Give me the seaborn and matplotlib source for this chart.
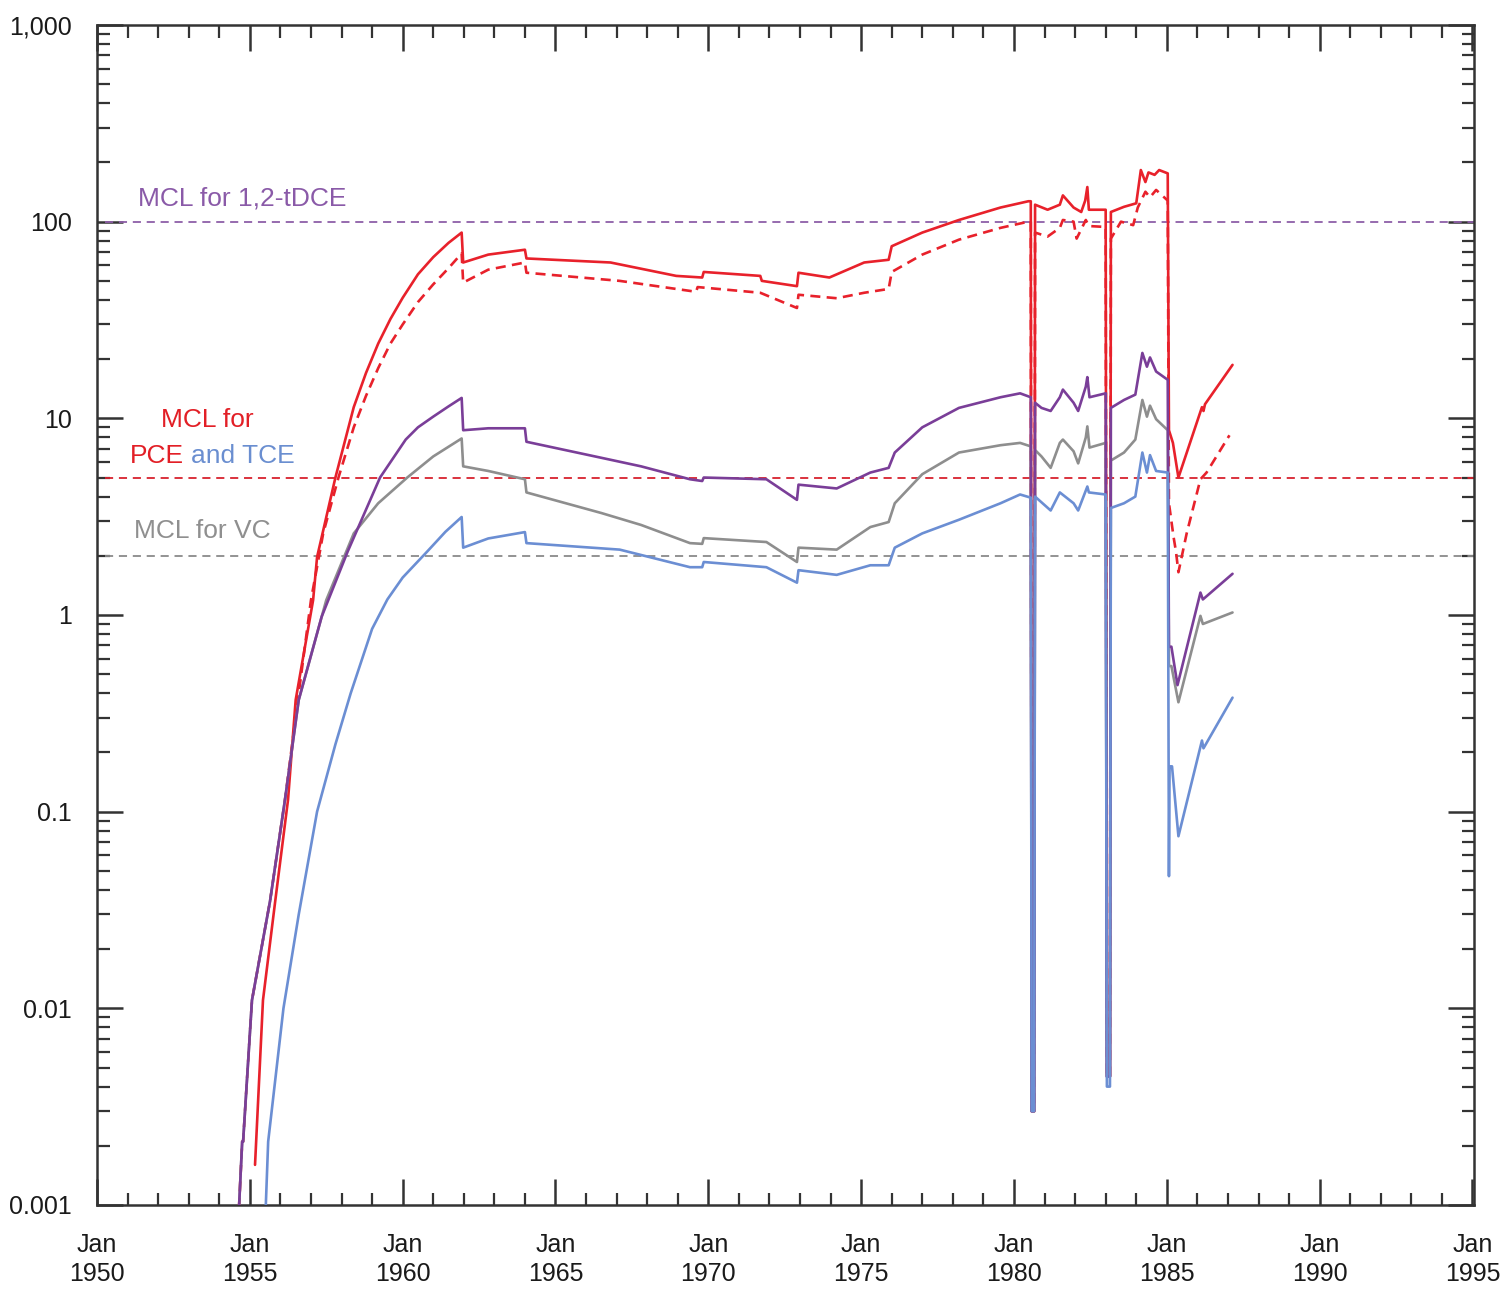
import numpy as np
import pandas as pd
import matplotlib
matplotlib.use("Agg")
import matplotlib.pyplot as plt
import seaborn as sns
from matplotlib.ticker import FixedLocator, LogLocator, NullFormatter

# ---------------- data ----------------
pce_years = [1955.17, 1955.43, 1955.83, 1956.25, 1956.5, 1957.07, 1957.2, 1957.8, 1958.4, 1958.8, 1959.2, 1959.6,
             1960.0, 1960.5, 1961.0, 1961.5, 1961.93,
             1961.98, 1962.8, 1964.0, 1964.05, 1966.8, 1968.95, 1969.8, 1969.85, 1971.7, 1971.75, 1972.9, 1972.95,
             1973.96, 1975.1, 1975.9, 1976.0, 1977.0, 1978.2, 1979.56, 1980.47, 1980.55,
             1980.58, 1980.66, 1980.69, 1981.1, 1981.5, 1981.6, 1981.95, 1982.2, 1982.33, 1982.4, 1982.45, 1983.0,
             1983.04, 1983.14, 1983.17, 1983.6, 1984.0, 1984.15, 1984.3, 1984.4, 1984.6, 1984.75, 1985.03,
             1985.07, 1985.2, 1985.38, 1986.15, 1986.2, 1986.25, 1987.15]
pce_vals = [0.0016, 0.011, 0.035, 0.115, 0.37, 1.19, 1.97, 5.0, 11.4, 17, 24, 32,
            41, 54, 66, 78, 88,
            62, 68, 72, 65, 62, 53, 52, 55.5, 53, 50, 47, 55,
            52, 62, 64, 75, 88, 102, 118, 127, 127,
            0.003, 0.003, 122, 115, 122, 136, 118, 112, 128, 150, 115, 115,
            0.0045, 0.0045, 112, 119, 124, 183, 159, 178, 173, 183, 176,
            8.7, 7.5, 5.0, 11.4, 10.9, 11.8, 18.7]

tce_years = [1954.62, 1954.75, 1954.78, 1955.07, 1955.66, 1956.15, 1956.6, 1957.0, 1957.4, 1957.9, 1958.4, 1958.8,
             1959.2, 1959.6, 1960.0, 1960.5, 1961.0, 1961.5, 1961.93,
             1961.98, 1962.8, 1964.0, 1964.05, 1967.1, 1969.6, 1969.65, 1971.7, 1972.9, 1972.95, 1974.2, 1975.1,
             1975.9, 1976.0, 1977.0, 1978.2, 1979.56, 1980.47, 1980.55,
             1980.58, 1980.66, 1980.69, 1981.1, 1981.5, 1981.6, 1981.95, 1982.05, 1982.35, 1982.45, 1983.0,
             1983.04, 1983.14, 1983.17, 1983.5, 1983.9, 1984.05, 1984.3, 1984.45, 1984.65, 1985.03,
             1985.07, 1985.15, 1985.22, 1985.3, 1985.38, 1985.65, 1986.1, 1986.3, 1987.05]
tce_vals = [0.0008, 0.0021, 0.0021, 0.011, 0.035, 0.115, 0.4, 1.19, 2.6, 5.0, 9.0, 13,
            18, 24, 30, 39, 48, 58, 69,
            49, 57, 62, 55, 50, 44, 46.5, 43.5, 36.4, 42.5, 40.8, 43.5,
            45.5, 55.5, 68, 81, 93, 100, 100,
            0.003, 0.003, 88, 84, 93, 102, 100, 82, 102, 95, 94,
            0.0045, 0.0045, 82, 100, 96, 118, 142, 133, 145, 128,
            3.7, 3.0, 2.5, 2.1, 1.65, 2.6, 4.9, 5.3, 8.2]

dce_years = [1954.62, 1954.75, 1954.78, 1955.07, 1955.66, 1956.15, 1956.6, 1957.35, 1958.2, 1959.26, 1960.1, 1960.5,
             1961.0, 1961.5, 1961.93,
             1961.98, 1962.8, 1964.0, 1964.05, 1966.5, 1967.8, 1969.4, 1969.8, 1969.85, 1971.9, 1972.9, 1972.95,
             1974.2, 1975.3, 1975.9, 1976.1, 1977.0, 1978.2, 1979.56, 1980.2, 1980.55,
             1980.58, 1980.66, 1980.69, 1980.9, 1981.2, 1981.5, 1981.6, 1981.95, 1982.1, 1982.35, 1982.4, 1982.47,
             1983.0,
             1983.04, 1983.14, 1983.17, 1983.6, 1983.97, 1984.2, 1984.35, 1984.45, 1984.65, 1985.03,
             1985.07, 1985.15, 1985.35, 1986.1, 1986.18, 1987.15]
dce_vals = [0.0008, 0.0021, 0.0021, 0.011, 0.035, 0.115, 0.37, 0.98, 2.1, 5.0, 7.8, 9.0,
            10.2, 11.5, 12.7,
            8.7, 8.9, 8.9, 7.6, 6.3, 5.7, 4.9, 4.8, 5.0, 4.9, 3.85, 4.6,
            4.4, 5.3, 5.6, 6.7, 9.0, 11.3, 12.8, 13.4, 12.8,
            0.003, 0.003, 12.0, 11.3, 10.9, 12.8, 14, 12, 10.9, 14.5, 16.2, 12.8,
            13.4,
            0.0045, 0.0045, 11.3, 12.4, 13.2, 21.5, 18.3, 20.4, 17.3, 15.7,
            0.69, 0.69, 0.44, 1.3, 1.2, 1.62]

vc_years = [1954.62, 1954.75, 1954.78, 1955.07, 1955.66, 1956.15, 1956.6, 1957.5, 1958.4, 1959.2, 1960.15, 1961.0,
            1961.93,
            1961.98, 1962.8, 1964.0, 1964.05, 1966.5, 1967.8, 1969.4, 1969.8, 1969.85, 1971.9, 1972.9, 1972.95,
            1974.2, 1975.3, 1975.9, 1976.1, 1977.0, 1978.2, 1979.56, 1980.2, 1980.55,
            1980.58, 1980.66, 1980.69, 1980.9, 1981.2, 1981.5, 1981.6, 1981.95, 1982.1, 1982.35, 1982.4, 1982.47,
            1983.0,
            1983.04, 1983.14, 1983.17, 1983.6, 1983.97, 1984.2, 1984.35, 1984.45, 1984.65, 1985.03,
            1985.07, 1985.15, 1985.38, 1986.1, 1986.18, 1987.15]
vc_vals = [0.0008, 0.0021, 0.0021, 0.011, 0.035, 0.115, 0.37, 1.19, 2.6, 3.7, 5.0, 6.4,
           7.9,
           5.7, 5.4, 4.9, 4.2, 3.3, 2.87, 2.32, 2.3, 2.46, 2.35, 1.86, 2.2,
           2.15, 2.8, 2.97, 3.7, 5.2, 6.7, 7.3, 7.5, 7.2,
           0.003, 0.003, 6.9, 6.4, 5.6, 7.5, 7.8, 6.8, 5.9, 8.0, 9.1, 7.1,
           7.5,
           0.0045, 0.0045, 6.1, 6.7, 7.8, 12.4, 10.2, 11.6, 9.9, 8.7,
           0.55, 0.55, 0.36, 0.99, 0.9, 1.03]

blue_years = [1955.5, 1955.6, 1956.1, 1956.6, 1957.2, 1957.8, 1958.3, 1959.0, 1959.5, 1960.0, 1960.8, 1961.4,
              1961.93,
              1961.98, 1962.8, 1964.0, 1964.05, 1967.1, 1969.4, 1969.8, 1969.85, 1971.9, 1972.9, 1972.95, 1974.2,
              1975.3, 1975.9, 1976.1, 1977.0, 1978.2, 1979.56, 1980.2, 1980.55,
              1980.58, 1980.66, 1980.69, 1981.2, 1981.5, 1981.95, 1982.1, 1982.4, 1982.45, 1983.0,
              1983.04, 1983.14, 1983.17, 1983.6, 1983.97, 1984.2, 1984.35, 1984.45, 1984.65, 1985.03,
              1985.07, 1985.09, 1985.17, 1985.38, 1986.15, 1986.2, 1987.15]
blue_vals = [0.0008, 0.0021, 0.01, 0.03, 0.1, 0.22, 0.4, 0.85, 1.2, 1.55, 2.1, 2.65,
             3.15,
             2.2, 2.45, 2.64, 2.32, 2.15, 1.75, 1.75, 1.86, 1.75, 1.46, 1.69, 1.6,
             1.79, 1.79, 2.2, 2.6, 3.05, 3.7, 4.1, 3.95,
             0.003, 0.003, 4.0, 3.4, 4.2, 3.7, 3.4, 4.5, 4.2, 4.1,
             0.004, 0.004, 3.5, 3.7, 4.0, 6.7, 5.3, 6.5, 5.4, 5.3,
             0.047, 0.17, 0.17, 0.075, 0.23, 0.21, 0.38]

mcl_values = [100, 5, 2]
mcl_colors = ["#8e5fa8", "#d8222e", "#8a8a8a"]

year_ticks = list(range(1950, 1996, 5))
x_tick_labels = [f"Jan\n{y}" for y in year_ticks]
y_ticks = [0.001, 0.01, 0.1, 1, 10, 100, 1000]
y_tick_labels = ["0.001", "0.01", "0.1", "1", "10", "100", "1,000"]

RED = "#e8212b"
PURPLE = "#7a3e98"
GRAY = "#8e8e8e"
BLUE = "#6b8ed3"

# ---------------- figure ----------------
sns.set_theme(style="ticks")
plt.rcParams['font.family'] = ['Liberation Sans', 'DejaVu Sans']

W, H = 1504, 1292
fig = plt.figure(figsize=(W / 100, H / 100), dpi=100)
fig.patch.set_facecolor("white")
ax = fig.add_axes([97 / W, 1 - 1205 / H, (1474 - 97) / W, (1205 - 25) / H])
ax.set_facecolor("white")
ax.set_yscale("log")

# reference (MCL) lines
for v, c in zip(mcl_values, mcl_colors):
    ax.axhline(v, xmin=0.006, xmax=1.0, color=c, lw=1.3, ls=(0, (4.5, 3.2)), zorder=1)

series = [
    (pce_years, pce_vals, RED, "-"),
    (tce_years, tce_vals, RED, (0, (3.8, 2.4))),
    (vc_years, vc_vals, GRAY, "-"),
    (dce_years, dce_vals, PURPLE, "-"),
    (blue_years, blue_vals, BLUE, "-"),
]
for yrs, vals, col, ls in series:
    df = pd.DataFrame({"year": yrs, "value": vals})
    sns.lineplot(data=df, x="year", y="value", ax=ax, color=col, lw=1.9,
                 ls=ls, sort=False, estimator=None, zorder=3)

ax.set_xlim(1950, 1995.05)
ax.set_ylim(0.001, 1000)
ax.set_xlabel("")
ax.set_ylabel("")

ax.xaxis.set_major_locator(FixedLocator(year_ticks))
ax.xaxis.set_minor_locator(FixedLocator(list(range(1950, 1996))))
ax.set_xticklabels(x_tick_labels)
ax.yaxis.set_major_locator(FixedLocator(y_ticks))
ax.yaxis.set_minor_locator(LogLocator(base=10, subs=np.arange(2, 10), numticks=20))
ax.yaxis.set_minor_formatter(NullFormatter())
ax.set_yticklabels(y_tick_labels)

ax.tick_params(which="major", direction="in", length=19, width=1.8, color="#333333",
               top=True, right=True, labelsize=18, labelcolor="#1a1a1a")
ax.tick_params(which="minor", direction="in", length=9, width=1.6, color="#333333",
               top=True, right=True)
ax.tick_params(axis="y", which="major", pad=18)
ax.tick_params(axis="x", which="major", pad=20)
for lbl in ax.get_xticklabels():
    lbl.set_linespacing(1.25)

for sp in ax.spines.values():
    sp.set_visible(True)
    sp.set_color("#333333")
    sp.set_linewidth(1.8)

# ---------------- annotations ----------------
ax.text(0.0298, 0.853, "MCL for 1,2-tDCE", transform=ax.transAxes, color="#8a5aa8",
        fontsize=19, ha="left", va="center")
ax.text(0.0799, 0.665, "MCL for", transform=ax.transAxes, color="#e21f26",
        fontsize=19, ha="center", va="center")
t_pce = ax.text(0.024, 0.635, "PCE", transform=ax.transAxes, color="#e21f26",
                fontsize=19, ha="left", va="center")
ax.annotate("and TCE", xy=(1, 0.5), xycoords=t_pce, xytext=(5, 0), textcoords="offset points",
            color="#6a8ed0", fontsize=19, ha="left", va="center")
ax.text(0.0269, 0.571, "MCL for VC", transform=ax.transAxes, color="#8f8f8f",
        fontsize=19, ha="left", va="center")

fig.savefig("out.png", dpi=100, facecolor="white")
